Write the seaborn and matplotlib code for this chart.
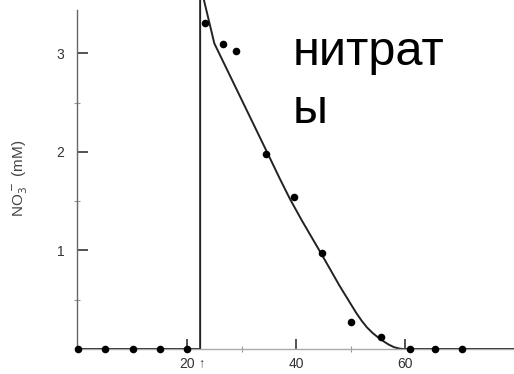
import matplotlib
matplotlib.use("Agg")
import matplotlib.pyplot as plt
import seaborn as sns
import pandas as pd

# data: measured points
pt_x = [0, 5, 10, 15, 20, 23.3, 26.6, 29.0, 34.5, 39.6, 44.8, 50.0, 55.6, 61.0, 65.5, 70.5]
pt_y = [0, 0, 0, 0, 0, 3.31, 3.09, 3.02, 1.98, 1.54, 0.97, 0.27, 0.12, 0, 0, 0]

# fitted curve (with the addition step at t = 22.4)
curve_x = [0, 22.4, 22.4, 25, 30, 35, 37, 38.9, 41, 44.8, 48, 50, 51, 52, 53, 54,
           55, 56, 57, 58, 59, 59.6, 80]
curve_y = [0, 0, 3.70, 3.10, 2.53, 1.96, 1.73, 1.52, 1.31, 0.95, 0.64, 0.46, 0.37,
           0.29, 0.22, 0.165, 0.12, 0.08, 0.045, 0.018, 0.004, 0, 0]

x_ticks = [20, 40, 60]
x_minor = [30, 50]
y_ticks = [1, 2, 3]
y_minor = [0.5, 1.5, 2.5]
y_label = "NO$_3^-$ (mM)"
note = "нитрат\nы"

sns.set_theme(style="white")
plt.rcParams["font.family"] = ["Liberation Sans", "DejaVu Sans"]

fig = plt.figure(figsize=(5.14, 3.74), dpi=100)
ax = fig.add_axes([77 / 514, 25 / 374, 437 / 514, 349 / 374])

pts = pd.DataFrame({"t": pt_x, "c": pt_y})
cur = pd.DataFrame({"t": curve_x, "c": curve_y})

sns.lineplot(data=cur, x="t", y="c", sort=False, ax=ax, color="#222222",
             linewidth=1.4, estimator=None)
sns.scatterplot(data=pts, x="t", y="c", ax=ax, color="black", s=30,
                edgecolor="black", linewidth=0, clip_on=False, zorder=5)

ax.set_xlim(-0.2, 80)
ax.set_ylim(0, 3.54)

ax.set_xticks(x_ticks, labels=[str(v) for v in x_ticks])
ax.set_xticks(x_minor, minor=True)
ax.set_yticks(y_ticks, labels=[str(v) for v in y_ticks])
ax.set_yticks(y_minor, minor=True)
ax.tick_params(axis="x", which="major", bottom=True, direction="in",
               length=7, width=1.3, color="#444444", pad=6,
               labelsize=10, labelcolor="#333333")
ax.tick_params(axis="y", which="major", left=True, direction="in",
               length=8, width=1.3, color="#444444", pad=9,
               labelsize=10, labelcolor="#333333")
ax.tick_params(axis="both", which="minor", left=True, bottom=True,
               direction="inout", length=4, width=0.8, color="#999999")

for s in ["top", "right"]:
    ax.spines[s].set_visible(False)
ax.spines["left"].set_color("#666666")
ax.spines["left"].set_linewidth(1.0)
ax.spines["left"].set_bounds(0, 3.44)
ax.spines["bottom"].set_color("#aaaaaa")
ax.spines["bottom"].set_linewidth(1.0)

ax.set_xlabel("")
ax.set_ylabel("")
fig.text(20 / 514, 1 - 178 / 374, y_label, rotation=90, ha="center",
         va="center", fontsize=11, color="#444444")

ax.text(22.6, -0.15, "↑", fontsize=9, ha="center", va="center",
        color="#444444", clip_on=False)

fig.text(293 / 514, 1 - 30 / 374, note, ha="left", va="top", fontsize=35,
         color="black", linespacing=1.38)

fig.savefig("out.png", dpi=100)
